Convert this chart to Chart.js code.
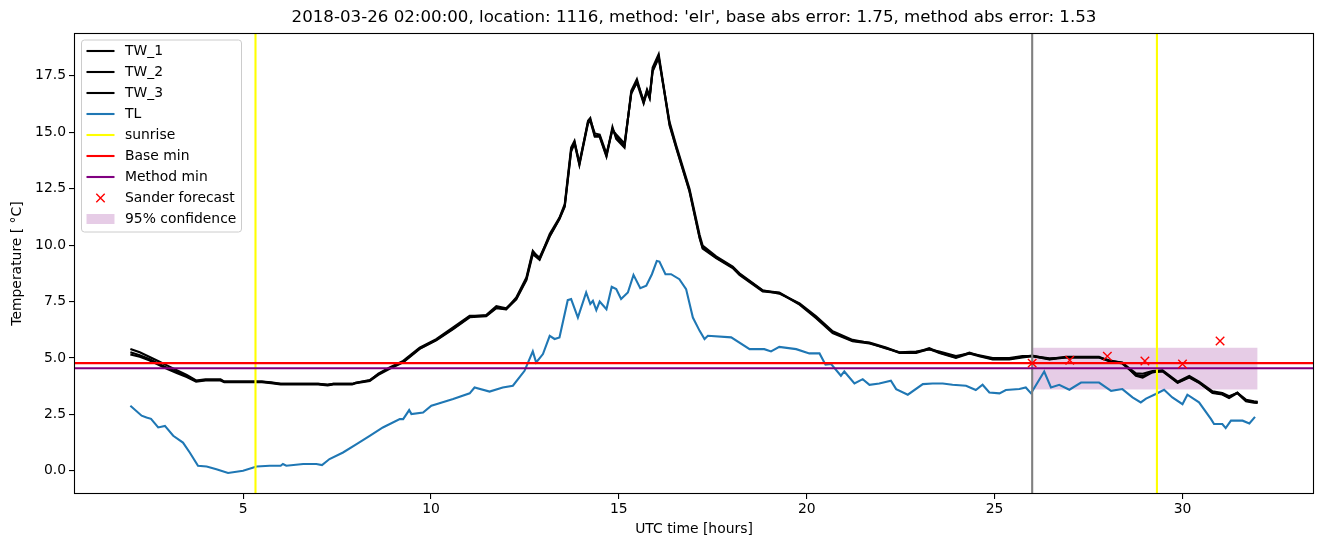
<!DOCTYPE html>
<html>
<head>
<meta charset="utf-8">
<script src="https://cdn.jsdelivr.net/npm/chart.js@4.4.1/dist/chart.umd.min.js"></script>
<style>
  html, body { margin: 0; padding: 0; background: #fff; }
</style>
</head>
<body>
<canvas id="chart" width="1324" height="547"></canvas>
<script>
// hours after 2018-03-26 00:00 UTC
const twHours = [2.0, 2.25, 2.5, 2.75, 3.0, 3.25, 3.5, 3.75, 4.0, 4.4,
  4.5, 5.5, 5.75, 6.0, 7.0, 7.25, 7.4, 7.9, 8.0, 8.37,
  8.6, 8.9, 9.26, 9.7, 10.14, 10.59, 11.03, 11.47, 11.74, 12.0,
  12.27, 12.54, 12.71, 12.89, 13.16, 13.42, 13.56, 13.73, 13.82, 13.95,
  14.18, 14.24, 14.36, 14.49, 14.67, 14.83, 14.93, 15.15, 15.33, 15.48,
  15.66, 15.75, 15.82, 15.9, 16.06, 16.35, 16.53, 16.88, 17.15, 17.23,
  17.59, 18.03, 18.21, 18.83, 19.27, 19.81, 20.25, 20.69, 21.22, 21.67,
  22.11, 22.47, 22.91, 23.26, 23.53, 23.97, 24.33, 24.59, 24.95, 25.39,
  25.74, 26.0, 26.46, 26.9, 27.78, 28.05, 28.4, 28.76, 28.94, 29.2,
  29.47, 29.87, 30.18, 30.44, 30.8, 31.06, 31.24, 31.46, 31.69, 31.9, 32.0];

const tw1 = [5.4, 5.25, 5.05, 4.85, 4.65, 4.45, 4.25, 4.0, 4.05, 4.05,
  3.95, 3.95, 3.9, 3.85, 3.85, 3.8, 3.85, 3.85, 3.9, 4.0,
  4.3, 4.58, 4.87, 5.46, 5.83, 6.35, 6.87, 6.87, 7.24, 7.16,
  7.68, 8.57, 9.75, 9.38, 10.49, 11.22, 11.82, 14.32, 14.62, 13.59,
  15.51, 15.63, 14.84, 14.84, 13.96, 15.24, 14.7, 14.32, 16.84, 17.35,
  16.32, 16.84, 16.54, 17.87, 18.46, 15.36, 14.32, 12.41, 10.34, 9.89,
  9.45, 9.01, 8.71, 7.98, 7.9, 7.39, 6.79, 6.13, 5.76, 5.68,
  5.46, 5.24, 5.24, 5.44, 5.24, 5.02, 5.24, 5.1, 4.95, 4.95,
  5.05, 5.1, 4.95, 5.05, 5.05, 4.87, 4.8, 4.21, 4.13, 4.36,
  4.43, 3.91, 4.16, 3.91, 3.47, 3.4, 3.25, 3.47, 3.1, 3.05, 3.03];

const tw2 = [5.25, 5.12, 4.95, 4.75, 4.55, 4.38, 4.2, 3.98, 4.02, 4.02,
  3.95, 3.95, 3.92, 3.85, 3.85, 3.82, 3.85, 3.85, 3.9, 4.02,
  4.28, 4.55, 4.83, 5.42, 5.8, 6.3, 6.83, 6.9, 7.3, 7.2,
  7.62, 8.5, 9.68, 9.45, 10.4, 11.18, 11.75, 14.2, 14.55, 13.65,
  15.45, 15.55, 14.95, 14.9, 14.05, 15.1, 14.9, 14.5, 16.7, 17.25,
  16.4, 16.9, 16.6, 17.7, 18.3, 15.45, 14.4, 12.5, 10.45, 9.98,
  9.5, 9.05, 8.75, 8.0, 7.85, 7.42, 6.85, 6.18, 5.8, 5.66,
  5.42, 5.25, 5.28, 5.38, 5.28, 5.08, 5.2, 5.12, 5.0, 5.0,
  5.08, 5.08, 4.98, 5.02, 5.02, 4.9, 4.78, 4.32, 4.3, 4.42,
  4.45, 3.95, 4.2, 3.95, 3.52, 3.45, 3.3, 3.45, 3.15, 3.08, 3.06];

const tw3 = [5.15, 5.05, 4.9, 4.7, 4.5, 4.32, 4.15, 3.95, 4.0, 4.0,
  3.92, 3.92, 3.88, 3.82, 3.82, 3.78, 3.82, 3.82, 3.88, 3.98,
  4.25, 4.52, 4.8, 5.4, 5.78, 6.28, 6.8, 6.85, 7.2, 7.15,
  7.6, 8.45, 9.6, 9.35, 10.38, 11.15, 11.7, 14.15, 14.5, 13.55,
  15.4, 15.5, 14.8, 14.8, 13.92, 15.15, 14.8, 14.4, 16.75, 17.2,
  16.28, 16.8, 16.5, 17.75, 18.35, 15.3, 14.28, 12.38, 10.3, 9.85,
  9.42, 8.98, 8.68, 7.95, 7.88, 7.36, 6.76, 6.1, 5.74, 5.64,
  5.44, 5.22, 5.22, 5.4, 5.22, 5.0, 5.2, 5.08, 4.93, 4.93,
  5.02, 5.08, 4.93, 5.02, 5.02, 4.85, 4.75, 4.25, 4.2, 4.38,
  4.4, 3.9, 4.13, 3.9, 3.45, 3.38, 3.22, 3.44, 3.08, 3.02, 3.0];

const tlHours = [2.0, 2.3, 2.43, 2.55, 2.74, 2.92, 3.14, 3.4, 3.58, 3.8,
  4.03, 4.29, 4.6, 5.0, 5.36, 5.71, 6.0, 6.06, 6.15, 6.6,
  6.95, 7.1, 7.3, 7.66, 8.02, 8.37, 8.72, 9.17, 9.26, 9.42,
  9.48, 9.79, 10.01, 10.14, 10.59, 11.03, 11.16, 11.56, 11.91, 12.18,
  12.49, 12.71, 12.8, 12.98, 13.16, 13.29, 13.42, 13.64, 13.73, 13.91,
  14.13, 14.24, 14.31, 14.4, 14.49, 14.67, 14.81, 14.93, 15.06, 15.24,
  15.39, 15.57, 15.73, 15.88, 16.01, 16.08, 16.24, 16.39, 16.61, 16.79,
  16.97, 17.15, 17.28, 17.37, 17.99, 18.48, 18.87, 19.05, 19.27, 19.72,
  20.07, 20.34, 20.5, 20.65, 20.91, 21.0, 21.27, 21.49, 21.67, 21.93,
  22.24, 22.38, 22.69, 23.09, 23.35, 23.62, 23.88, 24.24, 24.5, 24.68,
  24.86, 25.13, 25.3, 25.66, 25.83, 25.97, 26.32, 26.5, 26.72, 26.99,
  27.3, 27.78, 28.1, 28.4, 28.67, 28.89, 29.03, 29.29, 29.51, 29.73,
  30.0, 30.13, 30.44, 30.76, 30.84, 31.06, 31.15, 31.29, 31.6, 31.78, 31.93];

const tlTemps = [2.88, 2.44, 2.36, 2.3, 1.92, 1.99, 1.55, 1.25, 0.81, 0.22,
  0.19, 0.07, -0.1, 0.0, 0.19, 0.22, 0.22, 0.3, 0.22, 0.3,
  0.3, 0.25, 0.52, 0.81, 1.18, 1.55, 1.92, 2.29, 2.29, 2.69,
  2.51, 2.58, 2.88, 2.95, 3.18, 3.43, 3.69, 3.51, 3.69, 3.77,
  4.43, 5.29, 4.8, 5.17, 5.98, 5.84, 5.91, 7.56, 7.61, 6.79,
  7.9, 7.39, 7.53, 7.12, 7.5, 7.16, 8.15, 8.05, 7.61, 7.9,
  8.68, 8.09, 8.2, 8.71, 9.3, 9.27, 8.71, 8.71, 8.49, 8.05,
  6.79, 6.2, 5.84, 5.98, 5.91, 5.39, 5.39, 5.29, 5.49, 5.39,
  5.2, 5.2, 4.7, 4.73, 4.21, 4.4, 3.87, 4.06, 3.81, 3.87,
  3.99, 3.62, 3.37, 3.84, 3.87, 3.87, 3.81, 3.77, 3.58, 3.81,
  3.47, 3.43, 3.58, 3.62, 3.69, 3.43, 4.4, 3.69, 3.81, 3.59,
  3.91, 3.91, 3.54, 3.62, 3.25, 3.03, 3.2, 3.4, 3.59, 3.25,
  2.95, 3.37, 3.03, 2.29, 2.07, 2.07, 1.89, 2.22, 2.22, 2.1, 2.39];

const sunriseHours = [5.33, 29.32];
const forecastHour = 26;
const baseMin = 4.77;
const methodMin = 4.54;
const sanderHours = [26, 27, 28, 29, 30, 31];
const sanderTemps = [4.77, 4.9, 5.08, 4.86, 4.73, 5.75];
const confHours = [26, 32];
const confLow = 3.6;
const confHigh = 5.45;

const xTicks = [5, 10, 15, 20, 25, 30];
const yTicks = [0, 2.5, 5, 7.5, 10, 12.5, 15, 17.5];
const xRange = [0.5, 33.5];
const yRange = [-1.03, 19.4];

const titleText = "2018-03-26 02:00:00, location: 1116, method: 'elr', base abs error: 1.75, method abs error: 1.53";

const pts = (xs, ys) => xs.map((x, i) => ({ x: x, y: ys[i] }));
const vline = h => [{ x: h, y: yRange[0] - 1 }, { x: h, y: yRange[1] + 1 }];
const hline = v => [{ x: xRange[0] - 1, y: v }, { x: xRange[1] + 1, y: v }];

const FONT = "'DejaVu Sans', sans-serif";
const LW = 2.1; // 1.5pt at 100 dpi
Chart.defaults.font.family = FONT;
Chart.defaults.font.size = 13.9;
Chart.defaults.color = '#000';

function lineSet(label, data, color, order) {
  return {
    label: label, data: data, borderColor: color, backgroundColor: color,
    borderWidth: LW, pointRadius: 0, tension: 0, fill: false,
    order: order, legendKind: label ? 'line' : null
  };
}

const datasets = [
  lineSet('TW_1', pts(twHours, tw1), '#000000', 9),
  lineSet('TW_2', pts(twHours, tw2), '#000000', 8),
  lineSet('TW_3', pts(twHours, tw3), '#000000', 7),
  lineSet('TL', pts(tlHours, tlTemps), '#1f77b4', 6),
  lineSet('sunrise', vline(sunriseHours[0]), '#ffff00', 5),
  lineSet('Base min', hline(baseMin), '#ff0000', 4),
  lineSet('Method min', hline(methodMin), '#800080', 3),
  {
    label: 'Sander forecast', data: pts(sanderHours, sanderTemps),
    showLine: false, pointStyle: 'crossRot', pointRadius: 6, pointHoverRadius: 6,
    borderColor: '#ff0000', backgroundColor: '#ff0000', borderWidth: 1.4,
    order: 1, legendKind: 'marker'
  },
  {
    label: '95% confidence', data: pts(confHours, [confHigh, confHigh]),
    borderWidth: 0, pointRadius: 0, fill: { value: confLow },
    backgroundColor: 'rgba(128, 0, 128, 0.2)', borderColor: 'rgba(0,0,0,0)',
    order: 20, legendKind: 'patch'
  },
  lineSet('', vline(sunriseHours[1]), '#ffff00', 5),
  lineSet('', vline(forecastHour), '#808080', 5.5)
];

const decorations = {
  id: 'decorations',
  afterDatasetsDraw(chart) {
    const { ctx, chartArea: a } = chart;
    ctx.save();
    ctx.strokeStyle = '#000';
    ctx.lineWidth = 1.1;
    ctx.strokeRect(a.left + 0.5, a.top + 0.5, a.right - a.left - 1, a.bottom - a.top - 1);
    ctx.restore();
  },
  afterDraw(chart) {
    const { ctx, chartArea: a } = chart;
    ctx.save();
    // title
    ctx.fillStyle = '#000';
    ctx.font = "16.67px " + FONT;
    ctx.textAlign = 'center';
    ctx.textBaseline = 'middle';
    ctx.fillText(titleText, (a.left + a.right) / 2, 17.5);

    // legend box, upper left
    const items = chart.data.datasets.filter(d => d.legendKind);
    const bx = a.left + 7.5, by = a.top + 7, bw = 160, rowH = 21;
    const bh = items.length * rowH + 3;
    ctx.beginPath();
    ctx.roundRect(bx, by, bw, bh, 3);
    ctx.fillStyle = 'rgba(255,255,255,0.8)';
    ctx.fill();
    ctx.strokeStyle = '#cccccc';
    ctx.lineWidth = 1;
    ctx.stroke();

    ctx.font = "13.9px " + FONT;
    ctx.textAlign = 'left';
    items.forEach((d, i) => {
      const y = by + 11 + i * rowH;
      const x0 = bx + 5, x1 = bx + 33;
      if (d.legendKind === 'line') {
        ctx.beginPath();
        ctx.moveTo(x0, y);
        ctx.lineTo(x1, y);
        ctx.strokeStyle = d.borderColor;
        ctx.lineWidth = d.borderWidth;
        ctx.stroke();
      } else if (d.legendKind === 'marker') {
        const cx = (x0 + x1) / 2, r = 4.2;
        ctx.beginPath();
        ctx.moveTo(cx - r, y - r); ctx.lineTo(cx + r, y + r);
        ctx.moveTo(cx - r, y + r); ctx.lineTo(cx + r, y - r);
        ctx.strokeStyle = d.borderColor;
        ctx.lineWidth = d.borderWidth;
        ctx.stroke();
      } else {
        ctx.fillStyle = d.backgroundColor;
        ctx.fillRect(x0, y - 5, x1 - x0, 10);
      }
      ctx.fillStyle = '#000';
      ctx.fillText(d.label, bx + 43.5, y);
    });
    ctx.restore();
  }
};

new Chart(document.getElementById('chart'), {
  type: 'line',
  data: { datasets: datasets },
  options: {
    responsive: false,
    animation: false,
    devicePixelRatio: 1,
    layout: { padding: { top: 33, right: 10, left: 0, bottom: 0 } },
    plugins: { legend: { display: false }, title: { display: false }, tooltip: { enabled: false } },
    scales: {
      x: {
        type: 'linear', min: xRange[0], max: xRange[1],
        afterFit: s => { s.height = 53; },
        afterBuildTicks: s => { s.ticks = xTicks.map(v => ({ value: v })); },
        ticks: { padding: 2, maxRotation: 0, callback: v => String(v) },
        grid: { drawOnChartArea: false, drawTicks: true, tickLength: 5, color: '#000', lineWidth: 1.1 },
        border: { display: false },
        title: { display: true, text: 'UTC time [hours]', padding: { top: 0, bottom: 9.5 } }
      },
      y: {
        type: 'linear', min: yRange[0], max: yRange[1],
        afterFit: s => { s.width = 74; },
        afterBuildTicks: s => { s.ticks = yTicks.map(v => ({ value: v })); },
        ticks: { padding: 3, callback: v => v.toFixed(1) },
        grid: { drawOnChartArea: false, drawTicks: true, tickLength: 5, color: '#000', lineWidth: 1.1 },
        border: { display: false },
        title: { display: true, text: 'Temperature [ °C]', padding: { top: 9.5, bottom: 0 } }
      }
    }
  },
  plugins: [decorations]
});
</script>
</body>
</html>
